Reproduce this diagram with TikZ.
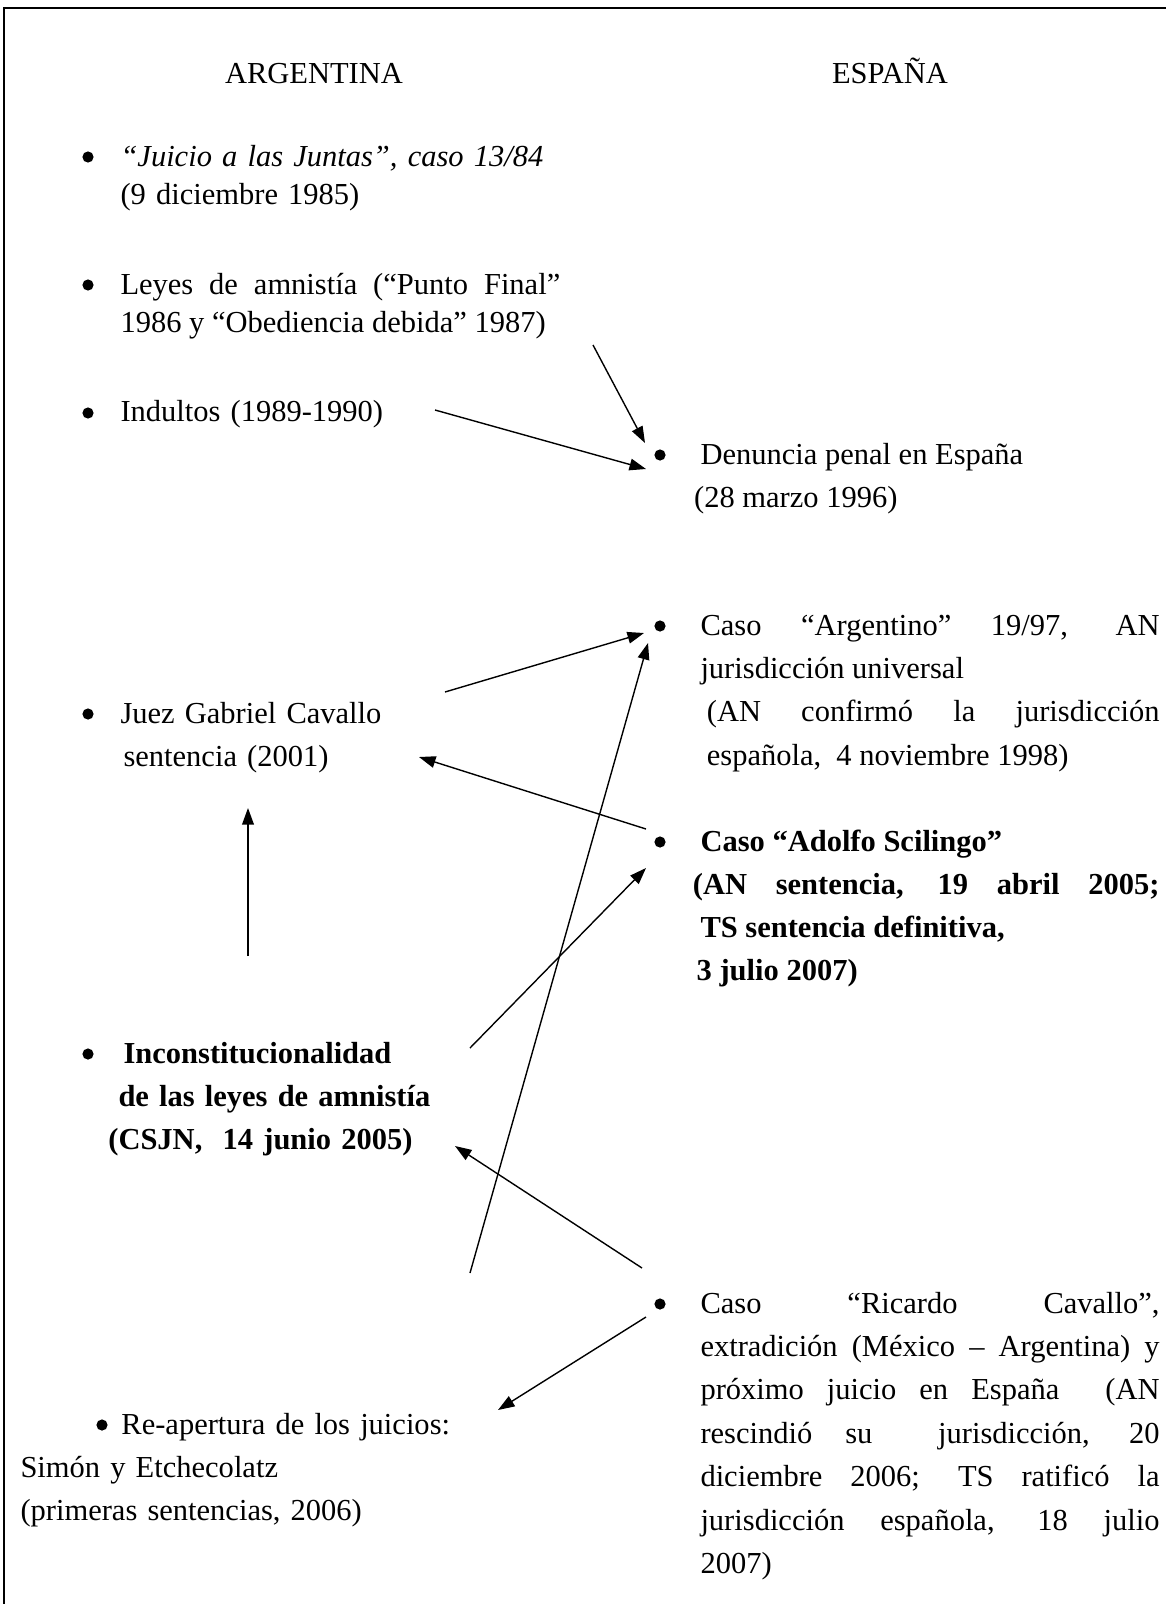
\documentclass[tikz,border=0pt]{standalone}
\usepackage{fontspec}
\setmainfont{Liberation Serif}
\usetikzlibrary{calc,arrows.meta}

\begin{document}
\begin{tikzpicture}[x=0.3934pt, y=-0.3934pt, font=\fontsize{12}{14}\selectfont]
  \tikzstyle{dot} = [circle, fill=black, inner sep=0pt, minimum size=4.4pt]
  \tikzstyle{ltext} = [anchor=base west, inner sep=0pt, text width=176pt, align=left, font=\fontsize{12}{15.1}\selectfont]
  \tikzstyle{mtext} = [ltext, font=\fontsize{12}{17}\selectfont]
  \tikzstyle{rtext} = [anchor=base west, inner sep=0pt, text width=180.6pt, align=justify, font=\fontsize{12}{17.1}\selectfont]
  \tikzstyle{arr} = [-{Triangle[length=6.5pt,width=4.6pt]}, line width=0.55pt]

  \useasboundingbox (0,0) rectangle (1166,1604);
  \draw[line width=1pt] (4,1620) |- (1180,8);

  \node[anchor=base] (tArg) at (314,83) {ARGENTINA};
  \node[anchor=base] (tEsp) at (890,83) {ESPAÑA};

  % argentina
  \node[dot] (bJui) at (88,157) {};
  \node[ltext] (jui) at (120,166) {\itshape “Juicio a las Juntas”, caso 13/84\\\upshape (9 diciembre 1985)};
  \node[dot] (bLey) at (88,285) {};
  \node[ltext, text width=173pt, align=justify] (ley) at (120,294) {Leyes de amnistía (“Punto Final”\linebreak 1986 y “Obediencia debida” 1987)};
  \node[dot] (bInd) at (88,413) {};
  \node[ltext] (ind) at (120,421) {Indultos (1989-1990)};
  \node[dot] (bJuez) at (88,714) {};
  \node[mtext] (juez) at (120,723) {Juez Gabriel Cavallo\\\hspace*{1.2pt}sentencia (2001)};
  \node[dot] (bInc) at (88,1054) {};
  \node[mtext, font=\fontsize{12}{17}\selectfont\bfseries] (inc) at (118,1063) {\hspace*{2pt}Inconstitucionalidad\\de las leyes de amnistía\\\hspace*{-4pt}(CSJN,\ \ 14 junio 2005)};
  \node[dot] (bRea) at (102,1425) {};
  \node[mtext] (rea) at (20,1434) {\hspace*{39.7pt}Re-apertura de los juicios:\\Simón y Etchecolatz\\(primeras sentencias, 2006)};

  % españa
  \node[dot] (bDen) at (660,455) {};
  \node[rtext] (den) at (700,464) {Denuncia penal en España\\\hspace*{-2.5pt}(28 marzo 1996)};
  \node[dot] (bArg) at (660,626) {};
  \node[rtext] (arg) at (700,635) {Caso “Argentino” 19/97, AN\linebreak jurisdicción universal\\\hspace*{2.5pt}(AN confirmó la jurisdicción\linebreak \hspace*{2.5pt}española,\ \ 4 noviembre 1998)};
  \node[dot] (bSci) at (660,842) {};
  \node[rtext, font=\fontsize{12}{17}\selectfont\bfseries] (sci) at (700,851) {Caso “Adolfo Scilingo”\\\hspace*{-3pt}(AN sentencia, 19 abril 2005;\linebreak TS sentencia definitiva,\\\hspace*{-1.5pt}3 julio 2007)};
  \node[dot] (bRic) at (660,1304) {};
  \node[rtext] (ric) at (700,1313) {Caso “Ricardo Cavallo”,\linebreak extradición (México – Argentina) y\linebreak próximo juicio en España\ \ (AN\linebreak rescindió su\ \ jurisdicción, 20\linebreak diciembre 2006; TS ratificó la\linebreak jurisdicción española, 18 julio\linebreak 2007)};

  % free ends of the arrows
  \coordinate (sLey) at (593,345);
  \coordinate (sInd) at (435,410);
  \coordinate (sJuez) at (445,692);
  \coordinate (sSci) at (646,829);
  \coordinate (eJuez) at (419,757);
  \coordinate (sInc) at (470,1048);
  \coordinate (sRea) at (470,1273);
  \coordinate (sRic) at (642,1268);
  \coordinate (eInc) at (455,1146);
  \coordinate (sRic2) at (646,1317);
  \coordinate (eRea) at (498,1410);
  \coordinate (sInc2) at (248,956);
  \coordinate (eJuez2) at (248,808);

  \draw[arr] (sLey) -- ($(bDen)+(-15,-12)$);
  \draw[arr] (sInd) -- ($(bDen)+(-14,14)$);
  \draw[arr] (sJuez) -- ($(bArg)+(-16,7)$);
  \draw[arr] (sRea) -- ($(bArg)+(-12,17)$);
  \draw[arr] (sSci) -- (eJuez);
  \draw[arr] (sInc) -- ($(bSci)+(-14,26)$);
  \draw[arr] (sRic) -- (eInc);
  \draw[arr] (sRic2) -- (eRea);
  \draw[arr] (sInc2) -- (eJuez2);
\end{tikzpicture}
\end{document}
